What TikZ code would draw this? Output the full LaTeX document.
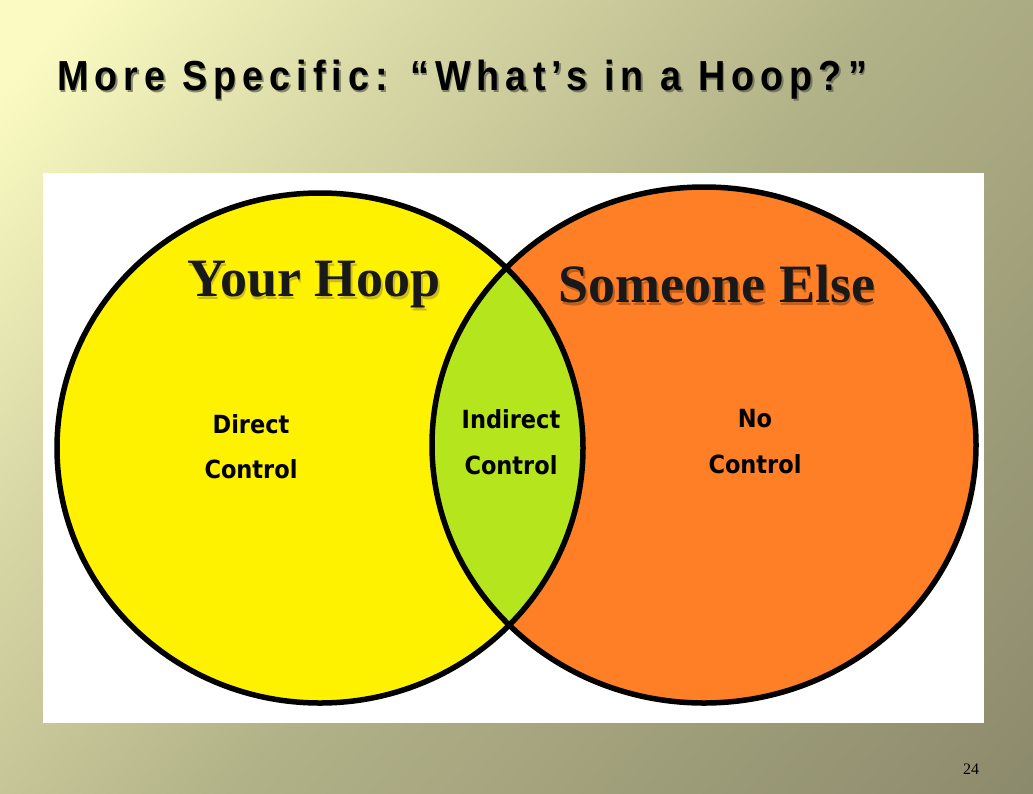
\documentclass[tikz,border=0pt]{standalone}
\usepackage{fontspec}
\setmainfont{Liberation Serif}
\newfontfamily\titlefont[FakeStretch=0.9,LetterSpace=14.4]{Liberation Sans}
\newfontfamily\hoopfont{Liberation Serif}
\newfontfamily\labelfont{DejaVu Sans Condensed}
\definecolor{bgA}{RGB}{250,250,194}
\definecolor{bgB}{RGB}{218,218,168}
\definecolor{bgC}{RGB}{178,178,136}
\definecolor{bgD}{RGB}{140,138,108}
\definecolor{hoopyellow}{RGB}{255,242,0}
\definecolor{hooporange}{RGB}{255,127,39}
\definecolor{hooplime}{RGB}{181,230,29}
\definecolor{titleshadow}{RGB}{95,95,75}
\definecolor{hoopshadowY}{RGB}{190,175,30}
\definecolor{hoopshadowO}{RGB}{175,85,25}
\pgfdeclarehorizontalshading{slidebg}{100bp}{color(0bp)=(bgA); color(18bp)=(bgA); color(32bp)=(bgB); color(52bp)=(bgC); color(85bp)=(bgD); color(100bp)=(bgD)}
\tikzset{
  titletext/.style={anchor=base west, inner sep=0pt, font=\titlefont\bfseries\fontsize{42}{48}\selectfont},
  hooptext/.style={anchor=base, inner sep=0pt, font=\hoopfont\bfseries\fontsize{54}{60}\selectfont},
  ctrltext/.style={anchor=base, inner sep=0pt, font=\labelfont\bfseries\fontsize{25}{28}\selectfont},
  ring/.style={draw=black, line width=5.5pt}
}
\begin{document}
\begin{tikzpicture}[x=1pt,y=-1pt]
\useasboundingbox (0,0) rectangle (1033,793);
% background
\shade[shading=slidebg, shading angle=-40] (0,0) rectangle (1033,793);
% white panel
\fill[white] (43,173) rectangle (984,723);
% circles
\fill[hoopyellow] (320,448) ellipse [x radius=263, y radius=255];
\fill[hooporange] (704,445) ellipse [x radius=272, y radius=258];
\begin{scope}
  \clip (320,448) ellipse [x radius=263, y radius=255];
  \fill[hooplime] (704,445) ellipse [x radius=272, y radius=258];
\end{scope}
\draw[ring] (320,448) ellipse [x radius=263, y radius=255];
\draw[ring] (704,445) ellipse [x radius=272, y radius=258];
% title
\node[titletext, text=titleshadow, opacity=0.7] (titleshadow) at (58.5,92.5) {More Specific: “What’s in a Hoop?”};
\node[titletext] (title) at (57,90) {More Specific: “What’s in a Hoop?”};
% hoop titles
\node[hooptext, text=hoopshadowY, opacity=0.8] (yourshadow) at (315.5,299) {Your Hoop};
\node[hooptext, text=black!90] (yourhoop) at (314,296) {Your Hoop};
\node[hooptext, text=hoopshadowO, opacity=0.8] (elseshadow) at (718.5,305) {Someone Else};
\node[hooptext, text=black!90] (someoneelse) at (717,302) {Someone Else};
% labels
\node[ctrltext] (direct) at (251,433) {Direct};
\node[ctrltext] (directc) at (251,478) {Control};
\node[ctrltext] (indirect) at (511,428) {Indirect};
\node[ctrltext] (indirectc) at (511,474) {Control};
\node[ctrltext] (no) at (755,427) {No};
\node[ctrltext] (noc) at (755,473) {Control};
% page number
\node[anchor=base, inner sep=0pt, font=\fontsize{16}{18}\selectfont] (page) at (971,774) {24};
\end{tikzpicture}
\end{document}
